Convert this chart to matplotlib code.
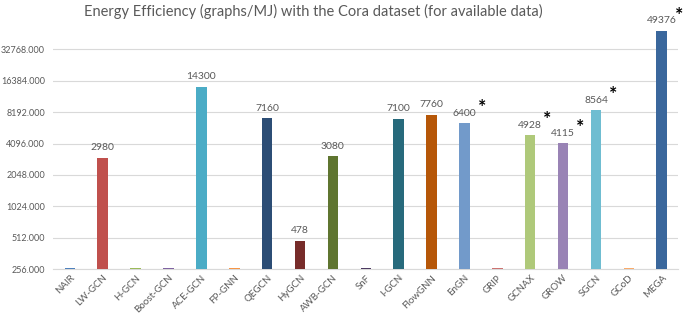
import matplotlib.pyplot as plt
from matplotlib.ticker import FixedLocator, FuncFormatter

plt.rcParams["font.family"] = ["Lato", "DejaVu Sans"]

# modelos y eficiencia energetica (graphs/MJ); None = sin dato
modelos = ["NAIR", "LW-GCN", "H-GCN", "Boost-GCN", "ACE-GCN", "FP-GNN", "QEGCN",
           "HyGCN", "AWB-GCN", "SnF", "I-GCN", "FlowGNN", "EnGN", "GRIP", "GCNAX",
           "GROW", "SGCN", "GCoD", "MEGA"]
valores = [None, 2980, None, None, 14300, None, 7160, 478, 3080, None, 7100, 7760,
           6400, None, 4928, 4115, 8564, None, 49376]
con_asterisco = ["EnGN", "GCNAX", "GROW", "SGCN", "MEGA"]
colores = ["#4F81BD", "#C0504D", "#9BBB59", "#8064A2", "#4BACC6", "#F79646", "#2C4D75",
           "#772C2A", "#5F7530", "#4D3B62", "#276A7C", "#B65708", "#729ACA", "#CD7371",
           "#AFC97A", "#9983B5", "#6FBDD1", "#F9AB6B", "#3A679C"]
ticks_y = [256, 512, 1024, 2048, 4096, 8192, 16384, 32768]

base = 256
gris = "#595959"

fig = plt.figure(figsize=(6.85, 3.14), dpi=100)
ax = fig.add_axes([0.078, 0.143, 0.912, 0.787])

x = list(range(len(modelos)))
alturas = [(v if v is not None else 262) - base for v in valores]
ax.bar(x, alturas, bottom=base, width=0.32, color=colores, zorder=3)

for i, v in enumerate(valores):
    if v is None:
        continue
    ax.annotate(str(v), (i, v), xytext=(0, 4), textcoords="offset points",
                ha="center", va="bottom", fontsize=7.5, color=gris, annotation_clip=False)
    if modelos[i] in con_asterisco:
        ax.annotate("*", (i, v), xytext=(12.5, 5), textcoords="offset points",
                    ha="center", va="bottom", fontsize=14, fontweight="bold",
                    color="black", annotation_clip=False)

ax.set_yscale("log", base=2)
ax.set_ylim(base, 60000)
ax.set_xlim(-0.5, len(modelos) - 0.5)
ax.yaxis.set_major_locator(FixedLocator(ticks_y))
ax.yaxis.set_minor_locator(FixedLocator([]))
ax.yaxis.set_major_formatter(FuncFormatter(lambda v, p: f"{v:.3f}"))
ax.grid(axis="y", color="#D9D9D9", linewidth=0.8, zorder=0)

ax.set_xticks(x)
ax.set_xticklabels(modelos, rotation=45, ha="right", rotation_mode="anchor",
                   fontsize=7, color=gris)
ax.tick_params(axis="y", labelsize=6.5, labelcolor=gris, length=0, pad=6)
ax.tick_params(axis="x", length=0, pad=3)
for s in ["top", "right", "left"]:
    ax.spines[s].set_visible(False)
ax.spines["bottom"].set_color("#D9D9D9")

fig.text(0.457, 0.965, "Energy Efficiency (graphs/MJ) with the Cora dataset (for available data)",
         ha="center", va="center", fontsize=10.5, color=gris)

plt.savefig("out.png", dpi=100)
